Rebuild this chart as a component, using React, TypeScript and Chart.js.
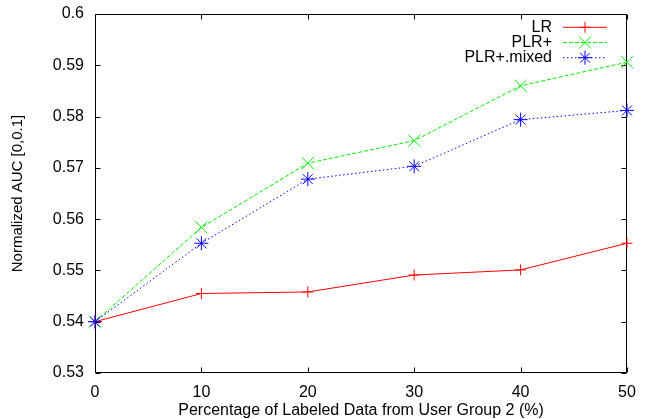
import React, { useEffect, useRef } from 'react';
import { Chart, registerables } from 'chart.js';
import { drawPoint } from 'chart.js/helpers';

Chart.register(...registerables);

// ---- data ----
const xValues = [0, 10, 20, 30, 40, 50];
const lrValues = [0.54, 0.5455, 0.5458, 0.5491, 0.5501, 0.5553];
const plrValues = [0.54, 0.5584, 0.5709, 0.5753, 0.586, 0.5906];
const mixedValues = [0.54, 0.5553, 0.5678, 0.5703, 0.5794, 0.5812];
const seriesNames = ['LR', 'PLR+', 'PLR+.mixed'];
const xTickValues = [0, 10, 20, 30, 40, 50];
const yTickValues = [0.53, 0.54, 0.55, 0.56, 0.57, 0.58, 0.59, 0.6];
const xTitle = 'Percentage of Labeled Data from User Group 2 (%)';
const yTitle = 'Normalized AUC [0,0.1]';

const FONT = "'Liberation Sans', Arial, Helvetica, sans-serif";

const toPoints = (vals: number[]) => vals.map((v, i) => ({ x: xValues[i], y: v }));

const framePlugin = {
  id: 'gnuFrame',
  beforeDatasetsDraw(chart: any) {
    const { ctx, chartArea: a, scales } = chart;
    const L = Math.round(a.left) + 0.5;
    const R = Math.round(a.right) - 0.5;
    const T = Math.round(a.top) + 0.5;
    const B = Math.round(a.bottom) - 0.5;
    const tl = 5;
    ctx.save();
    ctx.strokeStyle = '#000';
    ctx.lineWidth = 1;
    ctx.beginPath();
    ctx.rect(L, T, R - L, B - T);
    xTickValues.forEach((v) => {
      const px = Math.round(scales.x.getPixelForValue(v)) + 0.5;
      ctx.moveTo(px, B);
      ctx.lineTo(px, B - tl);
      ctx.moveTo(px, T);
      ctx.lineTo(px, T + tl);
    });
    yTickValues.forEach((v) => {
      const py = Math.round(scales.y.getPixelForValue(v)) + 0.5;
      ctx.moveTo(L, py);
      ctx.lineTo(L + tl, py);
      ctx.moveTo(R, py);
      ctx.lineTo(R - tl, py);
    });
    ctx.stroke();
    ctx.restore();
  },
};

const legendPlugin = {
  id: 'gnuLegend',
  afterDatasetsDraw(chart: any) {
    const { ctx } = chart;
    ctx.save();
    chart.data.datasets.forEach((ds: any, i: number) => {
      const yy = 27.3 + i * 15.2;
      ctx.font = `16px ${FONT}`;
      ctx.textAlign = 'right';
      ctx.textBaseline = 'middle';
      ctx.fillStyle = '#000';
      ctx.fillText(ds.label, 552, yy);
      ctx.strokeStyle = ds.borderColor;
      ctx.lineWidth = 1;
      ctx.setLineDash(ds.borderDash || []);
      ctx.beginPath();
      ctx.moveTo(563, yy);
      ctx.lineTo(607, yy);
      ctx.stroke();
      ctx.setLineDash([]);
      ctx.fillStyle = ds.borderColor;
      drawPoint(ctx, { pointStyle: ds.pointStyle, radius: ds.pointRadius, borderWidth: 1, rotation: 0 } as any, 585, yy);
    });
    ctx.restore();
  },
};

export default function App() {
  const ref = useRef<HTMLCanvasElement | null>(null);
  useEffect(() => {
    if (!ref.current) return;
    const chart = new Chart(ref.current, {
      type: 'line',
      data: {
        datasets: [
          {
            label: seriesNames[0],
            data: toPoints(lrValues),
            borderColor: '#ff0000',
            backgroundColor: '#ff0000',
            borderWidth: 1,
            pointStyle: 'cross',
            pointRadius: 5.5,
            pointBorderWidth: 1,
            order: 3,
            clip: false,
          },
          {
            label: seriesNames[1],
            data: toPoints(plrValues),
            borderColor: '#00ee00',
            backgroundColor: '#00ee00',
            borderWidth: 1,
            borderDash: [4, 2],
            pointStyle: 'crossRot',
            pointRadius: 8.5,
            pointBorderWidth: 1,
            order: 2,
            clip: false,
          },
          {
            label: seriesNames[2],
            data: toPoints(mixedValues),
            borderColor: '#0000ff',
            backgroundColor: '#0000ff',
            borderWidth: 1,
            borderDash: [1.5, 2.5],
            pointStyle: 'star',
            pointRadius: 7,
            pointBorderWidth: 1,
            order: 1,
            clip: false,
          },
        ] as any,
      },
      options: {
        animation: false,
        responsive: false,
        devicePixelRatio: 1,
        layout: { padding: { left: 0, right: 19, top: 14, bottom: 0 } },
        plugins: { legend: { display: false }, tooltip: { enabled: false } },
        elements: { line: { tension: 0 } },
        scales: {
          x: {
            type: 'linear',
            min: 0,
            max: 50,
            grid: { display: false, drawTicks: false },
            border: { display: false },
            afterBuildTicks: (s: any) => {
              s.ticks = xTickValues.map((v) => ({ value: v }));
            },
            afterFit: (s: any) => {
              s.height = 46;
              s.paddingLeft = 0;
              s.paddingRight = 0;
            },
            ticks: {
              padding: 10,
              color: '#000',
              font: { family: FONT, size: 16 },
              maxRotation: 0,
              callback: (v: any) => String(v),
            },
            title: {
              display: true,
              text: xTitle,
              color: '#000',
              font: { family: FONT, size: 16, lineHeight: 1 },
              padding: { top: 0, bottom: 0 },
            },
          },
          y: {
            type: 'linear',
            min: 0.53,
            max: 0.6,
            grid: { display: false, drawTicks: false },
            border: { display: false },
            afterBuildTicks: (s: any) => {
              s.ticks = yTickValues.map((v) => ({ value: v }));
            },
            afterFit: (s: any) => {
              s.width = 95;
              s.paddingTop = 0;
              s.paddingBottom = 0;
            },
            ticks: {
              padding: 11,
              color: '#000',
              font: { family: FONT, size: 16 },
              callback: (v: any) => String(Number(Number(v).toFixed(2))),
            },
            title: {
              display: true,
              text: yTitle,
              color: '#000',
              font: { family: FONT, size: 15 },
              padding: { top: 8.5, bottom: 0 },
            },
          },
        },
      } as any,
      plugins: [framePlugin, legendPlugin],
    });
    return () => chart.destroy();
  }, []);
  return (
    <div style={{ position: 'absolute', left: 0, top: 0, width: 646, height: 419, background: '#fff' }}>
      <canvas ref={ref} width={646} height={419} style={{ width: 646, height: 419, display: 'block' }} />
    </div>
  );
}
